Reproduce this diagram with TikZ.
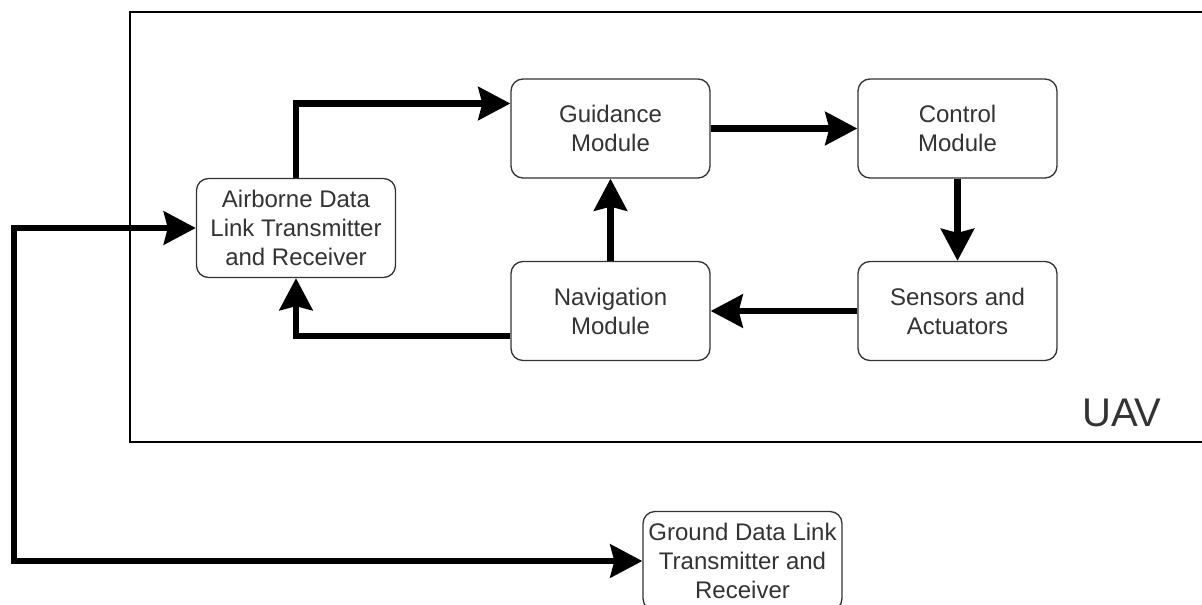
\documentclass[tikz,border=0pt]{standalone}
\usepackage{fontspec}
\setmainfont{Liberation Sans}
\usetikzlibrary{arrows.meta}
\definecolor{txt}{HTML}{333333}
\tikzset{
  box/.style={draw=txt, line width=1.3pt, rounded corners=12pt, rectangle,
    minimum width=199pt, minimum height=99pt, inner sep=0pt, align=center,
    text=txt, font=\fontsize{24}{29}\selectfont},
  tip/.style={Stealth[length=32pt,width=33pt,inset=4pt]},
  arr/.style={line width=6.5pt, -{Stealth[length=32pt,width=33pt,inset=4pt]}},
  biarr/.style={line width=6.5pt, {Stealth[length=32pt,width=33pt,inset=4pt]}-{Stealth[length=32pt,width=33pt,inset=4pt]}},
}
\begin{document}
\begin{tikzpicture}[x=1pt,y=-1pt]
\useasboundingbox (0,0) rectangle (1202,605);
\fill[white] (0,0) rectangle (1202,605);
\draw[line width=1.3pt] (1210,12) -- (130,12) -- (130,442) -- (1210,442);
\node[text=txt, font=\fontsize{40}{48}\selectfont, anchor=center] (uav) at (1122,413) {UAV};
\node[box] (air) at (296,228) {Airborne Data\\Link Transmitter\\and Receiver};
\node[box] (guid) at (610.5,128.5) {Guidance\\Module};
\node[box] (ctrl) at (957.5,128.5) {Control\\Module};
\node[box] (sens) at (957.5,311) {Sensors and\\Actuators};
\node[box] (nav) at (610.5,311) {Navigation\\Module};
\node[box] (gnd) at (742.5,561) {Ground Data Link\\Transmitter and\\Receiver};
\coordinate (g1) at ([yshift=25pt]guid.west);
\coordinate (n1) at ([yshift=-25pt]nav.west);
\coordinate (lft) at (14,0);
\draw[arr] (air.north) |- (g1);
\draw[arr] (guid.east) -- (ctrl.west);
\draw[arr] (ctrl.south) -- (sens.north);
\draw[arr] (sens.west) -- (nav.east);
\draw[arr] (nav.north) -- (guid.south);
\draw[arr] (n1) -| (air.south);
\draw[biarr] (gnd.west) -- (gnd.west -| lft) |- (air.west);
\end{tikzpicture}
\end{document}
